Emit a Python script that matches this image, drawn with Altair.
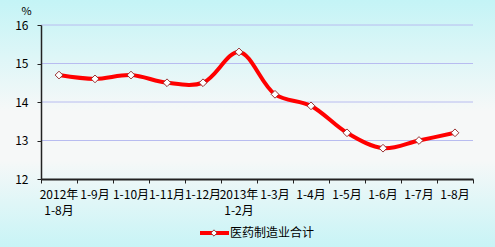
import altair as alt
import pandas as pd

labels_line1 = ["2012年", "1-9月", "1-10月", "1-11月", "1-12月", "2013年",
                "1-3月", "1-4月", "1-5月", "1-6月", "1-7月", "1-8月"]
labels_line2 = ["1-8月", "", "", "", "", "1-2月", "", "", "", "", "", ""]
values = [14.7, 14.6, 14.7, 14.5, 14.5, 15.3, 14.2, 13.9, 13.2, 12.8, 13.0, 13.2]
series_name = "医药制造业合计"
y_ticks = [12, 13, 14, 15, 16]
grid_values = [13, 14, 15, 16]

FONT = "SimSun, Noto Sans CJK SC"

df = pd.DataFrame({"idx": list(range(len(values))), "l1": labels_line1,
                   "l2": labels_line2, "value": values})
n = len(values)

xscale = alt.Scale(domain=[-0.5, n - 0.5], nice=False, zero=False)
yscale = alt.Scale(domain=[12, 16], nice=False, zero=False)

x_axis = alt.Axis(values=[i - 0.5 for i in range(n + 1)], labels=False, title=None,
                  grid=False, tickSize=4, domainColor="#222", tickColor="#222",
                  domainWidth=2, zindex=1)
y_axis = alt.Axis(values=y_ticks, title="%", titleAngle=0, titleX=-15, titleY=-9,
                  titleFont=FONT, titleFontSize=11, titleFontWeight="normal",
                  titleColor="#000", labelFont=FONT, labelFontSize=12,
                  labelColor="#000", labelPadding=9, tickSize=4,
                  labelOverlap=False, labelFlush=False,
                  domainColor="#222", tickColor="#222", domainWidth=1.5,
                  grid=False, zindex=1)

bg = alt.Chart(alt.Data(values=[{}])).mark_rect(
    fill=alt.Gradient(
        gradient="linear",
        stops=[
            alt.GradientStop(color="#c4f4f6", offset=0),
            alt.GradientStop(color="#f6f8f8", offset=0.45),
            alt.GradientStop(color="#f6f8f8", offset=0.65),
            alt.GradientStop(color="#c8f4f6", offset=1),
        ],
        x1=0, x2=0, y1=0, y2=1,
    )
).encode(x=alt.value(-41), x2=alt.value(454), y=alt.value(-25), y2=alt.value(222))

grid = alt.Chart(pd.DataFrame({"g": grid_values})).mark_rule(
    color="#b8bcf0", strokeWidth=1).encode(
    y=alt.Y("g:Q", scale=yscale, axis=y_axis), x=alt.value(0), x2=alt.value(432))

base = alt.Chart(df)

line = base.mark_line(color="#ff0000", strokeWidth=4, interpolate="catmull-rom").encode(
    x=alt.X("idx:Q", scale=xscale, axis=x_axis),
    y=alt.Y("value:Q", scale=yscale, axis=y_axis),
)

points = base.mark_point(shape="diamond", filled=True, fill="white", stroke="#993333",
                         strokeWidth=1, size=60, opacity=1).encode(
    x=alt.X("idx:Q", scale=xscale, axis=x_axis),
    y=alt.Y("value:Q", scale=yscale, axis=y_axis))

labels1 = base.mark_text(font=FONT, fontSize=12, color="#000", baseline="middle",
                         align="center").encode(
    x=alt.X("idx:Q", scale=xscale, axis=x_axis), y=alt.value(170), text="l1:N")
labels2 = base.mark_text(font=FONT, fontSize=12, color="#000", baseline="middle",
                         align="center").encode(
    x=alt.X("idx:Q", scale=xscale, axis=x_axis), y=alt.value(186), text="l2:N")

leg = alt.Chart(alt.Data(values=[{"name": series_name}]))
leg_rule = leg.mark_rule(color="#ff0000", strokeWidth=4).encode(
    x=alt.value(159), x2=alt.value(188), y=alt.value(208))
leg_pt = leg.mark_point(shape="diamond", filled=True, fill="white", stroke="#993333",
                        strokeWidth=1, size=40, opacity=1).encode(
    x=alt.value(173), y=alt.value(208))
leg_txt = leg.mark_text(font=FONT, fontSize=12, color="#000", align="left",
                        baseline="middle").encode(
    x=alt.value(189), y=alt.value(208), text="name:N")

chart = alt.layer(bg, grid, line, points, labels1, labels2, leg_rule, leg_pt,
                  leg_txt).properties(
    width=432, height=154,
    autosize=alt.AutoSizeParams(type="none"),
    padding={"left": 41, "top": 25, "right": 22, "bottom": 68},
    background="#c8f4f6",
).configure_view(stroke=None)

chart.save("out.html", embed_options={"renderer": "svg", "actions": False})
